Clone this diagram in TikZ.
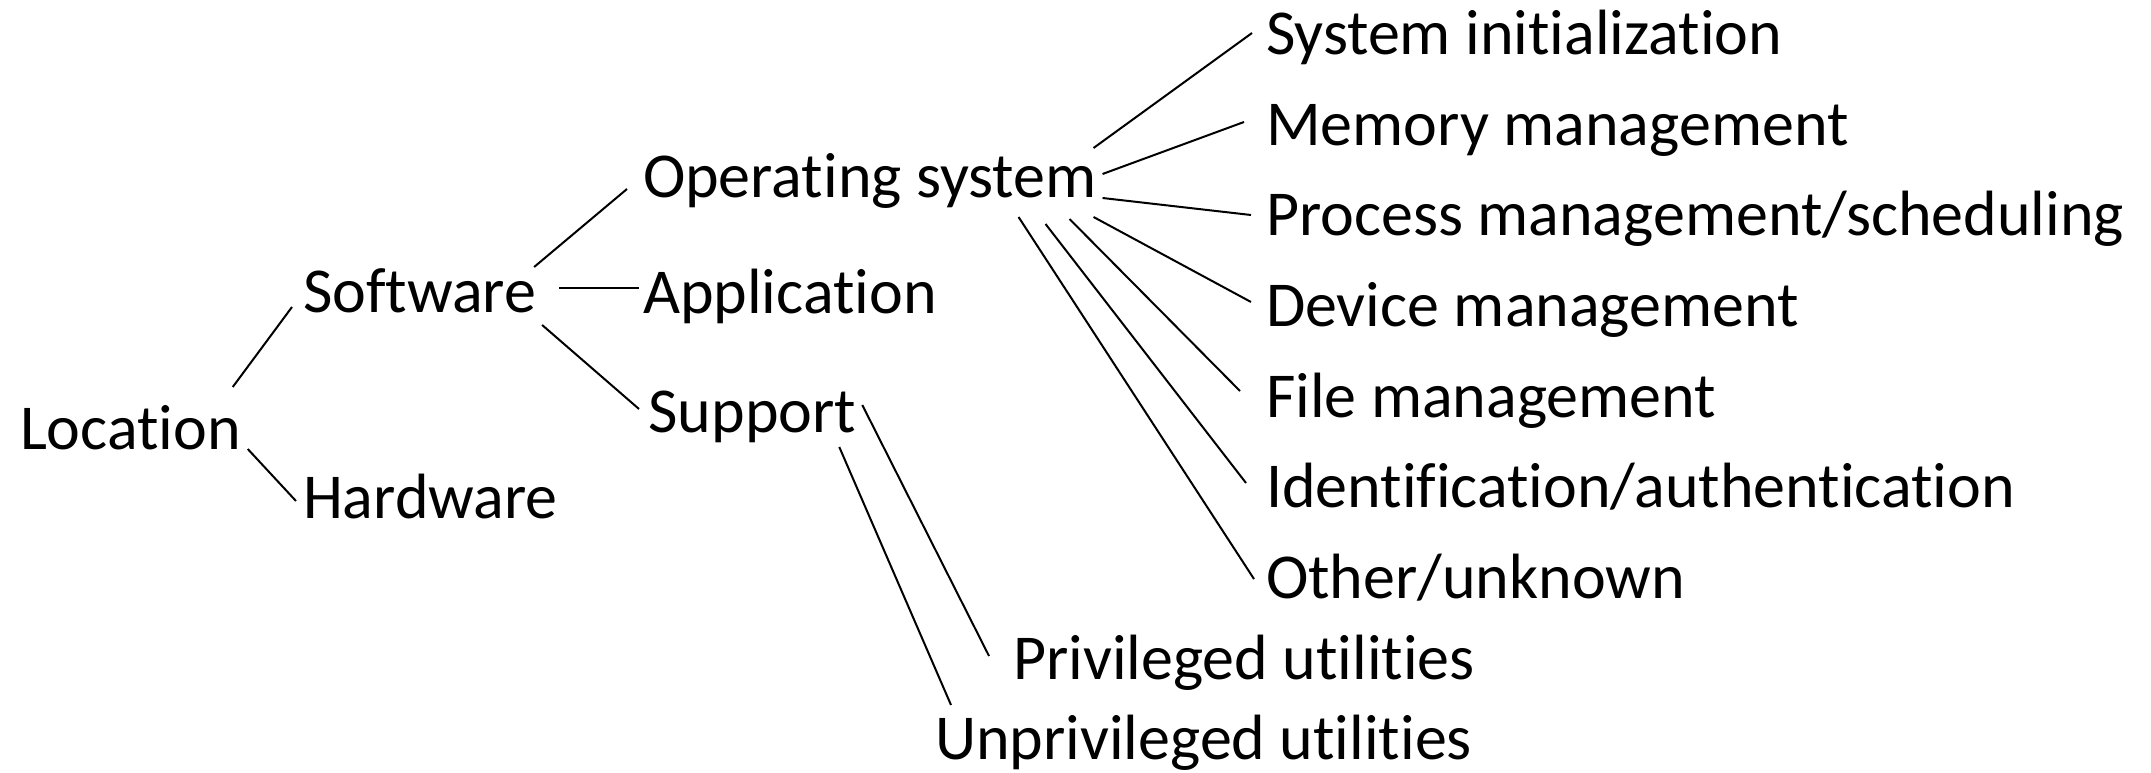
\documentclass[tikz,border=0pt]{standalone}
\usepackage{fontspec}
\setmainfont{Carlito}[Ligatures=NoCommon]
\usetikzlibrary{calc}

\tikzset{every picture/.style={line width=1.5pt}}
\tikzset{lbl/.style={anchor=base west,inner sep=0pt,font=\fontsize{48}{58}\selectfont}}

\begin{document}
\begin{tikzpicture}[x=0.75pt,y=0.75pt,yscale=-1,xscale=1]
\useasboundingbox (0,0) rectangle (2151,773);

% Text Node
\draw (19,449) node [lbl] (loc) {Location};
% Text Node
\draw (302,313) node [lbl] (sw) {Software};
% Text Node
\draw (302,518) node [lbl] (hw) {Hardware};
% Text Node
\draw (642,197.5) node [lbl] (os) {Operating system};
% Text Node
\draw (642,314) node [lbl] (app) {Application};
% Text Node
\draw (647.5,432) node [lbl] (sup) {Support};
% Text Node
\draw (1265,55) node [lbl] (init) {System initialization};
% Text Node
\draw (1265,145.5) node [lbl] (mem) {Memory management};
% Text Node
\draw (1265,236) node [lbl] (proc) {Process management/scheduling};
% Text Node
\draw (1265,326.5) node [lbl] (dev) {Device management};
% Text Node
\draw (1265,417) node [lbl] (file) {File management};
% Text Node
\draw (1265,507.5) node [lbl] (ident) {Identification/authentication};
% Text Node
\draw (1265,598) node [lbl] (other) {Other/unknown};
% Text Node
\draw (1012,679) node [lbl] (priv) {Privileged utilities};
% Text Node
\draw (934,759) node [lbl] (unpriv) {Unprivileged utilities};

%Straight Lines
\draw ($(loc.base east)+(-9,-62)$) -- ($(sw.base west)+(-10,-6)$) ;
\draw ($(loc.base east)+(6,0)$) -- ($(hw.base west)+(-6,-17)$) ;
%Straight Lines
\draw ($(sw.base east)+(-3,-46)$) -- ($(os.base west)+(-15,-8.5)$) ;
\draw ($(sw.base east)+(22,-25)$) -- ($(app.base west)+(-3,-26)$) ;
\draw ($(sw.base east)+(5,12)$) -- ($(sup.base west)+(-8.5,-23)$) ;
%Straight Lines
\draw ($(os.base east)+(-4,-49.5)$) -- ($(init.base west)+(-13,-22)$) ;
\draw ($(os.base east)+(5,-23.5)$) -- ($(mem.base west)+(-21,-23.5)$) ;
\draw ($(os.base east)+(5,0.5)$) -- ($(proc.base west)+(-14,-21)$) ;
\draw ($(os.base east)+(-4,19.5)$) -- ($(dev.base west)+(-14,-24.5)$) ;
\draw ($(os.base east)+(-28,21.5)$) -- ($(file.base west)+(-25,-26)$) ;
\draw ($(os.base east)+(-52,26.5)$) -- ($(ident.base west)+(-19,-24.5)$) ;
\draw ($(os.base east)+(-79,19.5)$) -- ($(other.base west)+(-11,-19)$) ;
%Straight Lines
\draw ($(sup.base east)+(5,-27)$) -- ($(priv.base west)+(-23,-23)$) ;
\draw ($(sup.base east)+(-18,15)$) -- ($(unpriv.base west)+(17,-54)$) ;

\end{tikzpicture}
\end{document}
